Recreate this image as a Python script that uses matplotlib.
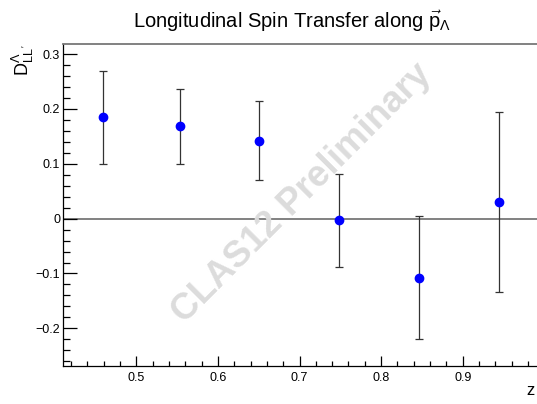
import numpy as np
import matplotlib
matplotlib.use("Agg")
import matplotlib.pyplot as plt
from matplotlib.ticker import MultipleLocator

plt.rcParams['font.family'] = ['Liberation Sans', 'DejaVu Sans']
plt.rcParams['mathtext.fontset'] = 'custom'
plt.rcParams['mathtext.rm'] = 'Liberation Sans'
plt.rcParams['mathtext.it'] = 'Liberation Sans'

# data
z = [0.459, 0.553, 0.650, 0.748, 0.847, 0.944]
d_ll = [0.185, 0.168, 0.142, -0.003, -0.108, 0.031]
d_err = [0.085, 0.068, 0.072, 0.085, 0.112, 0.164]

fig = plt.figure(figsize=(5.37, 4.04), dpi=100)
ax = fig.add_axes([0.117, 0.094, 0.883, 0.796])

ax.axhline(0, color='#777777', lw=1.3, zorder=1)
ax.errorbar(z, d_ll, yerr=d_err, fmt='o', color='#0000ff', ms=6,
            ecolor='#333333', elinewidth=0.9, capsize=3, capthick=0.9, zorder=3)

ax.set_xlim(0.41, 0.991)
ax.set_ylim(-0.2687, 0.3176)

# ROOT-like axes: ticks inside, only left and bottom axes with ticks
ax.spines['right'].set_visible(False)
ax.spines['top'].set_color('#777777')
ax.spines['top'].set_linewidth(1.3)
ax.spines['left'].set_linewidth(0.9)
ax.spines['bottom'].set_linewidth(0.9)

ax.xaxis.set_major_locator(MultipleLocator(0.1))
ax.xaxis.set_minor_locator(MultipleLocator(0.02))
ax.yaxis.set_major_locator(MultipleLocator(0.1))
ax.yaxis.set_minor_locator(MultipleLocator(0.02))
ax.xaxis.set_major_formatter(plt.FuncFormatter(lambda v, p: f"{v:.1f}"))
ax.yaxis.set_major_formatter(plt.FuncFormatter(
    lambda v, p: "0" if abs(v) < 1e-9 else f"{v:.1f}".replace('-', '\u2212')))

ax.tick_params(axis='y', which='major', direction='in', length=10, width=0.9,
               labelsize=9, pad=2)
ax.tick_params(axis='y', which='minor', direction='in', length=5, width=0.9)
ax.tick_params(axis='x', which='major', direction='in', length=7, width=0.9,
               labelsize=9, pad=4)
ax.tick_params(axis='x', which='minor', direction='in', length=3.5, width=0.9)

fig.text(0.544, 0.931, r"Longitudinal Spin Transfer along $\vec{\mathrm{p}}_{\Lambda}$",
         ha='center', va='baseline', fontsize=14.5)
fig.text(0.042, 0.889, r"D$_{LL'}^{\Lambda}$", rotation=90, ha='center', va='top',
         fontsize=13)
fig.text(0.995, 0.015, "z", ha='right', va='bottom', fontsize=12)

fig.text(0.562, 0.522, "CLAS12 Preliminary", rotation=45, ha='center', va='center',
         fontsize=26.5, fontweight='bold', color='#dcdcdc', zorder=0)

fig.savefig("out.png", dpi=100)
